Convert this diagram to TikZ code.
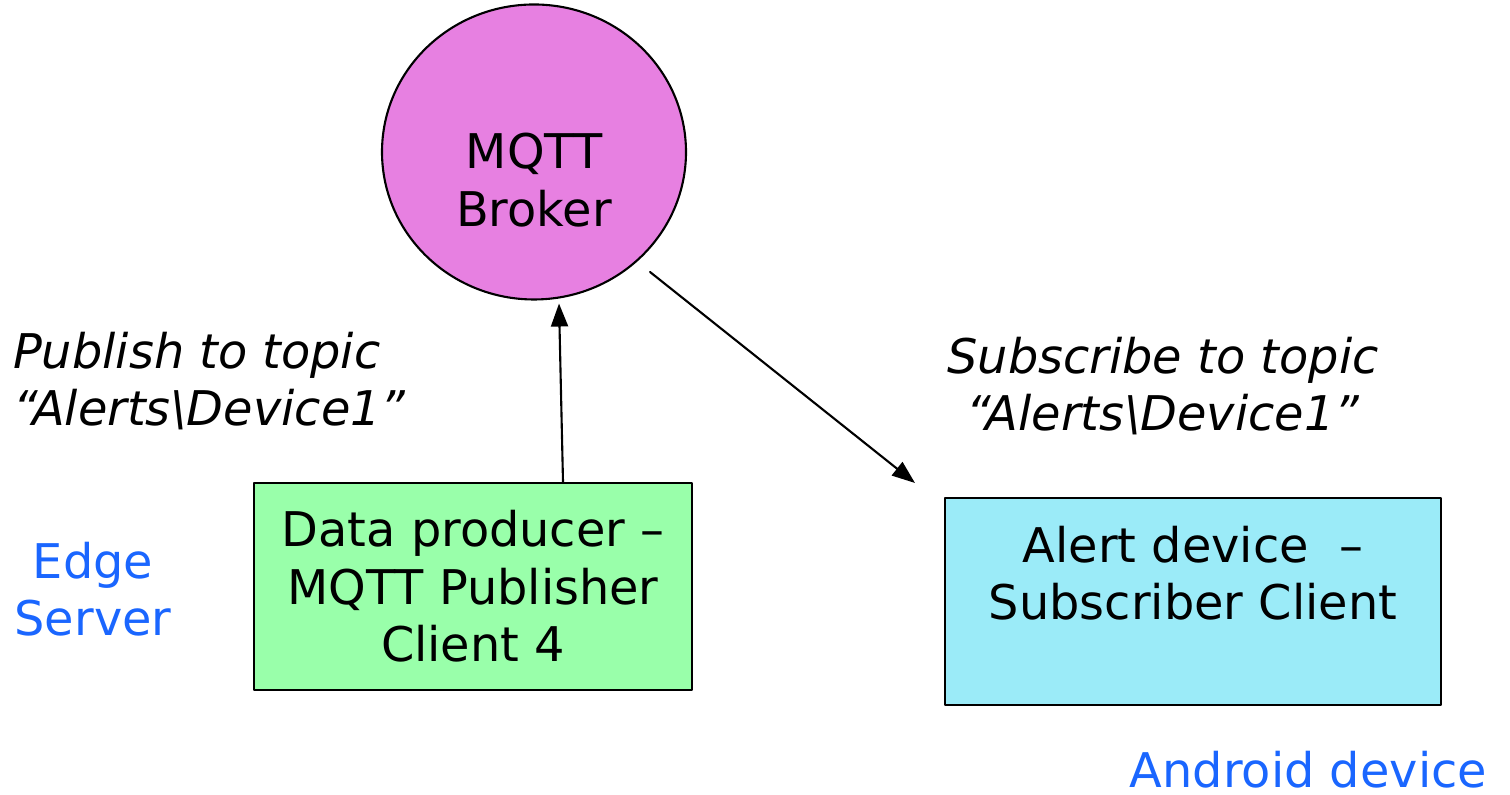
\documentclass[tikz,border=0pt]{standalone}
\usepackage{fontspec}
\setmainfont{DejaVu Sans}
\usetikzlibrary{arrows.meta,shapes.geometric}
\definecolor{brokerpink}{RGB}{231,128,225}
\definecolor{pubgreen}{RGB}{153,255,170}
\definecolor{subcyan}{RGB}{155,235,248}
\definecolor{hostblue}{RGB}{26,102,255}
\begin{document}
\begin{tikzpicture}[line join=round, line cap=round, >={Triangle[length=0.23cm,width=0.17cm]}, line width=0.6pt]
            \tikzset{txt/.style={font=\fontsize{13.6}{16.4}\selectfont, align=center},
                     topic/.style={txt, font=\fontsize{13.6}{16.4}\selectfont\itshape, inner sep=0pt},
                     host/.style={txt, text=hostblue, inner sep=0pt},
                     clientbox/.style={draw, txt, minimum height=2.07cm}}
            \useasboundingbox (0,0) rectangle (15.10,7.95);
            \node[ellipse, draw, fill=brokerpink, minimum width=3.04cm, minimum height=2.95cm] (broker) at (5.34,6.43) {};
            \node[txt] (brokername) at ([yshift=-0.28cm]broker.center) {MQTT\\Broker};
            \node[clientbox, fill=pubgreen, minimum width=4.38cm] (producer) at (4.73,2.085) {Data producer –\\MQTT Publisher\\Client 4};
            \node[clientbox, fill=subcyan, minimum width=4.96cm] (alert) at (11.93,1.935) {Alert device~~–\\Subscriber Client\\~};
            \node[topic, anchor=north west, align=left] (pubtopic) at (0.12,4.64) {Publish to topic\\“Alerts\textbackslash Device1”};
            \node[topic, anchor=north] (subtopic) at (11.63,4.59) {Subscribe to topic\\“Alerts\textbackslash Device1”};
            \node[host, anchor=north] (edge) at (0.93,2.54) {Edge\\Server};
            \node[host, anchor=base east] (android) at (14.88,0.07) {Android device};
            \coordinate (subtail) at (6.50,5.23);
            \coordinate (subtip) at (9.15,3.12);
            \draw[->] ([xshift=0.9cm]producer.north) -- ([xshift=0.25cm,yshift=-0.03cm]broker.south);
            \draw[->] (subtail) -- (subtip);
        \end{tikzpicture}
\end{document}
